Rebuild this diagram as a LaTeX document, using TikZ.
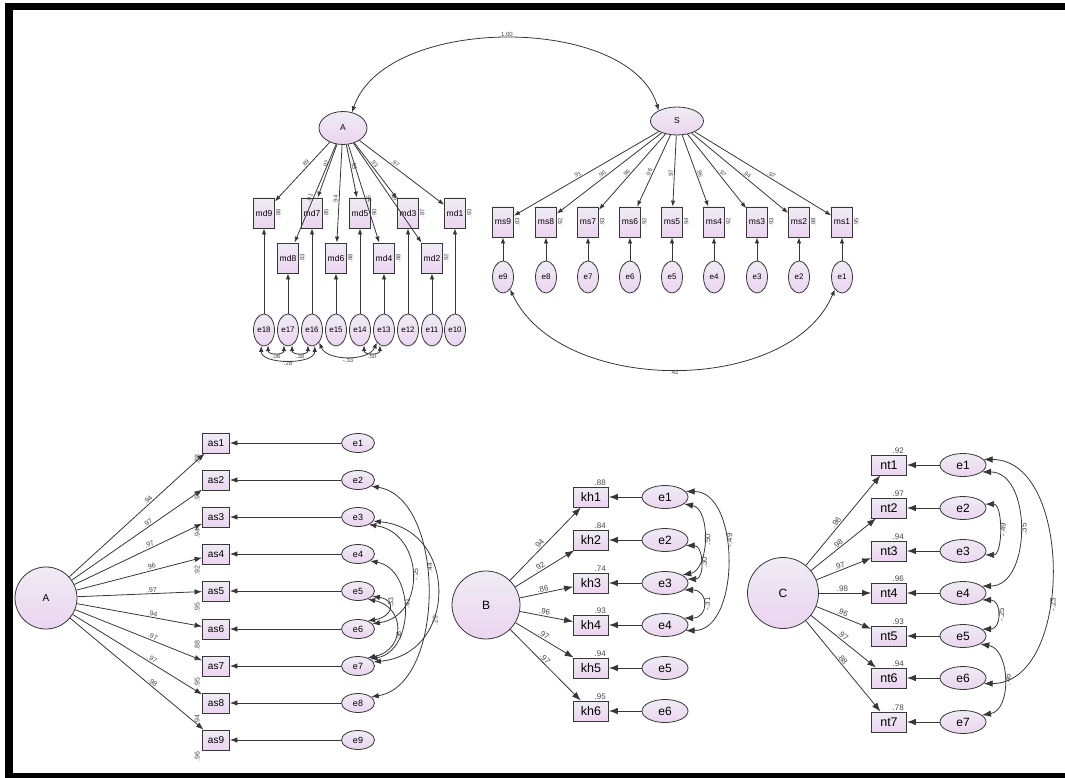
\documentclass[tikz,border=0pt]{standalone}
\usepackage{fontspec}
\setmainfont{Liberation Sans}
\usetikzlibrary{shapes.geometric,arrows.meta,calc}
\definecolor{dk}{RGB}{55,55,55}
\definecolor{ftop}{RGB}{238,236,244}
\definecolor{fbot}{RGB}{236,212,240}
\definecolor{labc}{RGB}{70,70,70}
\begin{document}
\begin{tikzpicture}[x=1pt,y=-1pt,
 base/.style={draw=dk, line width=0.8pt, top color=ftop, bottom color=fbot, inner sep=0pt, text=black},
 lat/.style={base, ellipse},
 obs/.style={base, rectangle},
 lnk/.style={draw=dk, line width=0.8pt},
 arrS/.style={lnk, -{Latex[length=6pt,width=4.5pt]}},
 covS/.style={lnk, {Latex[length=6pt,width=4.5pt]}-{Latex[length=6pt,width=4.5pt]}},
 arrM/.style={lnk, -{Latex[length=7.5pt,width=5.5pt]}},
 covM/.style={lnk, {Latex[length=7.5pt,width=5.5pt]}-{Latex[length=7.5pt,width=5.5pt]}},
 arrL/.style={lnk, -{Latex[length=9pt,width=6.5pt]}},
 covL/.style={lnk, {Latex[length=9pt,width=6.5pt]}-{Latex[length=9pt,width=6.5pt]}},
 labS/.style={font=\fontsize{6}{7}\selectfont, text=labc, inner sep=1pt},
 labM/.style={font=\fontsize{7}{8}\selectfont, text=labc, inner sep=1pt},
 labL/.style={font=\fontsize{8}{9}\selectfont, text=labc, inner sep=1pt},
 tbox/.style={obs, minimum width=21pt, minimum height=30pt, font=\fontsize{8.5}{9}\selectfont},
 tell/.style={lat, minimum width=21pt, minimum height=32pt, font=\fontsize{8}{9}\selectfont},
 abox/.style={obs, minimum width=27pt, minimum height=20pt, font=\fontsize{10}{11}\selectfont},
 aell/.style={lat, minimum width=33pt, minimum height=19pt, font=\fontsize{9}{10}\selectfont},
 bbox/.style={obs, minimum width=35pt, minimum height=20pt, font=\fontsize{12.5}{13}\selectfont},
 bell/.style={lat, minimum width=46pt, minimum height=23pt, font=\fontsize{12}{13}\selectfont},
]
\useasboundingbox (0,0) rectangle (1065,778);
\fill[black] (5,3) rectangle (1065,10);
\fill[black] (5,3) rectangle (13,778);
\fill[black] (5,773) rectangle (1065,778);

% ---------- top: A and S ----------
\node[lat, minimum width=48pt, minimum height=33pt, font=\fontsize{8.5}{9}\selectfont] (A) at (343,128) {A};
\node[lat, minimum width=53pt, minimum height=28pt, font=\fontsize{8.5}{9}\selectfont] (S) at (677,121) {S};
\draw[covS] (A.60) .. controls (385,14) and (630,14) .. node[labS, above]{1.00} (S.150);

\foreach \n/\x/\rr/\ld in {md9/264/.88/.89, md7/312/.85/.92, md5/360/.90/.95, md3/408/.87/.93, md1/455/.93/.97}{
  \node[tbox, label={[labS, rotate=90, anchor=north]east:\rr}] (\n) at (\x,213) {\n};
  \draw[arrS] (A) -- node[labS, sloped, above, pos=0.4]{\ld} (\n);
}
\foreach \n/\x/\rr/\ld in {md8/288/.83/.91, md6/336/.88/.94, md4/384/.88/.94, md2/432/.92/.96}{
  \node[tbox, label={[labS, rotate=90, anchor=north]east:\rr}] (\n) at (\x,258) {\n};
  \draw[arrS] (A) -- node[labS, sloped, above, pos=0.56]{\ld} (\n);
}
\foreach \i/\x/\t in {18/264/md9, 17/288/md8, 16/312/md7, 15/336/md6, 14/360/md5, 13/384/md4, 12/408/md3, 11/432/md2, 10/455/md1}{
  \node[tell] (te\i) at (\x,330) {e\i};
  \draw[arrS] (te\i) -- (\t);
}
\draw[covS] (te18.-75) .. controls +(0,10) and +(0,10) .. node[labS, below]{.08} (te17.-105);
\draw[covS] (te17.-75) .. controls +(0,10) and +(0,10) .. node[labS, below]{.38} (te16.-105);
\draw[covS] (te18.-100) .. controls +(0,19) and +(0,19) .. node[labS, below, pos=0.5]{.28} (te16.-80);
\draw[covS] (te16.-60) .. controls +(8,19) and +(-8,19) .. node[labS, below]{-.33} (te13.-120);
\draw[covS] (te14.-75) .. controls +(0,10) and +(0,10) .. node[labS, below]{.50} (te13.-105);

\foreach \i/\x/\rr/\ld in {9/503/.83/.91, 8/546/.92/.96, 7/588/.93/.96, 6/630/.92/.96, 5/672/.94/.97, 4/714/.92/.96, 3/757/.93/.97, 2/799/.88/.94, 1/842/.95/.97}{
  \node[tbox, label={[labS, rotate=90, anchor=north]east:\rr}] (ms\i) at (\x,222) {ms\i};
  \node[tell] (se\i) at (\x,277) {e\i};
  \draw[arrS] (se\i) -- (ms\i);
  \draw[arrS] (S) -- node[labS, sloped, above, pos=0.55]{\ld} (ms\i);
}
\draw[covS] (se9.-60) .. controls (560,396) and (790,396) .. node[labS, below]{.42} (se1.-120);

% ---------- bottom left: A ----------
\node[base, circle, minimum size=62pt, font=\fontsize{10}{11}\selectfont] (LA) at (46,598) {A};
\foreach \i/\y/\ld/\rr in {1/443/.94/.88, 2/480/.97/.95, 3/517/.97/.94, 4/554/.96/.92, 5/591/.97/.95, 6/629/.94/.88, 7/666/.97/.95, 8/703/.97/.94, 9/740/.98/.96}{
  \node[abox] (as\i) at (216,\y) {as\i};
  \node[aell] (ae\i) at (358,\y) {e\i};
  \draw[arrM] (ae\i) -- (as\i);
  \draw[arrM] (LA) -- node[labM, sloped, above, pos=0.6]{\ld} (as\i);
  \node[labM, rotate=90] (r2as\i) at ($(as\i.south west)+(-5,6)$) {\rr};
}
\draw[covM] (ae2.-25) .. controls +(75,12) and +(75,-12) .. node[labM, pos=0.42, rotate=90, anchor=north]{.44} (ae8.25);
\draw[covM] (ae3.-15) .. controls +(85,8) and +(85,-8) .. node[labM, pos=0.65, rotate=90, anchor=north]{.29} (ae7.15);
\draw[covM] (ae3.-35) .. controls +(55,8) and +(55,-8) .. node[labM, pos=0.5, rotate=90, anchor=north]{-.25} (ae6.20);
\draw[covM] (ae4.-30) .. controls +(45,8) and +(45,-8) .. node[labM, pos=0.45, rotate=90, anchor=north]{.41} (ae7.30);
\draw[covM] (ae5.-20) .. controls +(25,4) and +(25,-4) .. node[labM, pos=0.3, rotate=90, anchor=north]{.33} (ae6.40);
\draw[covM] (ae5.-40) .. controls +(38,8) and +(38,-8) .. node[labM, pos=0.6, rotate=90, anchor=north]{.36} (ae7.40);

% ---------- bottom middle: B ----------
\node[base, circle, minimum size=68pt, font=\fontsize{12}{13}\selectfont] (LB) at (486,605) {B};
\foreach \i/\y/\ld/\rr in {1/497/.94/.88, 2/540/.92/.84, 3/583/.86/.74, 4/625/.96/.93, 5/668/.97/.94, 6/711/.97/.95}{
  \node[bbox, label={[labL, anchor=south east, xshift=-2pt]north east:\rr}] (kh\i) at (591,\y) {kh\i};
  \node[bell] (be\i) at (665,\y) {e\i};
  \draw[arrL] (be\i) -- (kh\i);
  \draw[arrL] (LB) -- node[labL, sloped, above, pos=0.45]{\ld} (kh\i);
}
\draw[covL] (be1.-20) .. controls +(27,5) and +(27,-5) .. node[labL, pos=0.5, rotate=90, anchor=north]{.50} (be3.25);
\draw[covL] (be1.15) .. controls +(55,0) and +(55,0) .. node[labL, pos=0.4, rotate=90, anchor=north]{-.49} (be4.-15);
\draw[covL] (be2.-15) .. controls +(18,0) and +(18,0) .. node[labL, pos=0.5, rotate=90, anchor=north]{.30} (be3.10);
\draw[covL] (be3.-20) .. controls +(25,0) and +(25,0) .. node[labL, pos=0.5, rotate=90, anchor=north]{-.31} (be4.20);

% ---------- bottom right: C ----------
\node[base, circle, minimum size=71pt, font=\fontsize{12}{13}\selectfont] (LC) at (783,593) {C};
\foreach \i/\y/\ld/\rr in {1/465/.96/.92, 2/508/.98/.97, 3/551/.97/.94, 4/593/.98/.96, 5/636/.96/.93, 6/678/.97/.94, 7/722/.88/.78}{
  \node[bbox, label={[labL, anchor=south east, xshift=-2pt]north east:\rr}] (nt\i) at (889,\y) {nt\i};
  \node[bell] (ce\i) at (963,\y) {e\i};
  \draw[arrL] (ce\i) -- (nt\i);
  \draw[arrL] (LC) -- node[labL, sloped, above, pos=0.45]{\ld} (nt\i);
}
\draw[covL] (ce2.10) .. controls +(18,0) and +(18,0) .. node[labL, pos=0.5, rotate=90, anchor=north]{-.49} (ce3.-10);
\draw[covL] (ce1.-20) .. controls +(50,0) and +(50,0) .. node[labL, pos=0.5, rotate=90, anchor=north]{.35} (ce4.20);
\draw[covL] (ce1.15) .. controls +(90,0) and +(90,0) .. node[labL, pos=0.6, rotate=90, anchor=north]{-.23} (ce6.-15);
\draw[covL] (ce4.-20) .. controls +(20,0) and +(20,0) .. node[labL, pos=0.5, rotate=90, anchor=north]{-.25} (ce5.20);
\draw[covL] (ce5.-25) .. controls +(30,5) and +(30,-5) .. node[labL, pos=0.5, rotate=90, anchor=north]{.46} (ce7.20);
\end{tikzpicture}
\end{document}
